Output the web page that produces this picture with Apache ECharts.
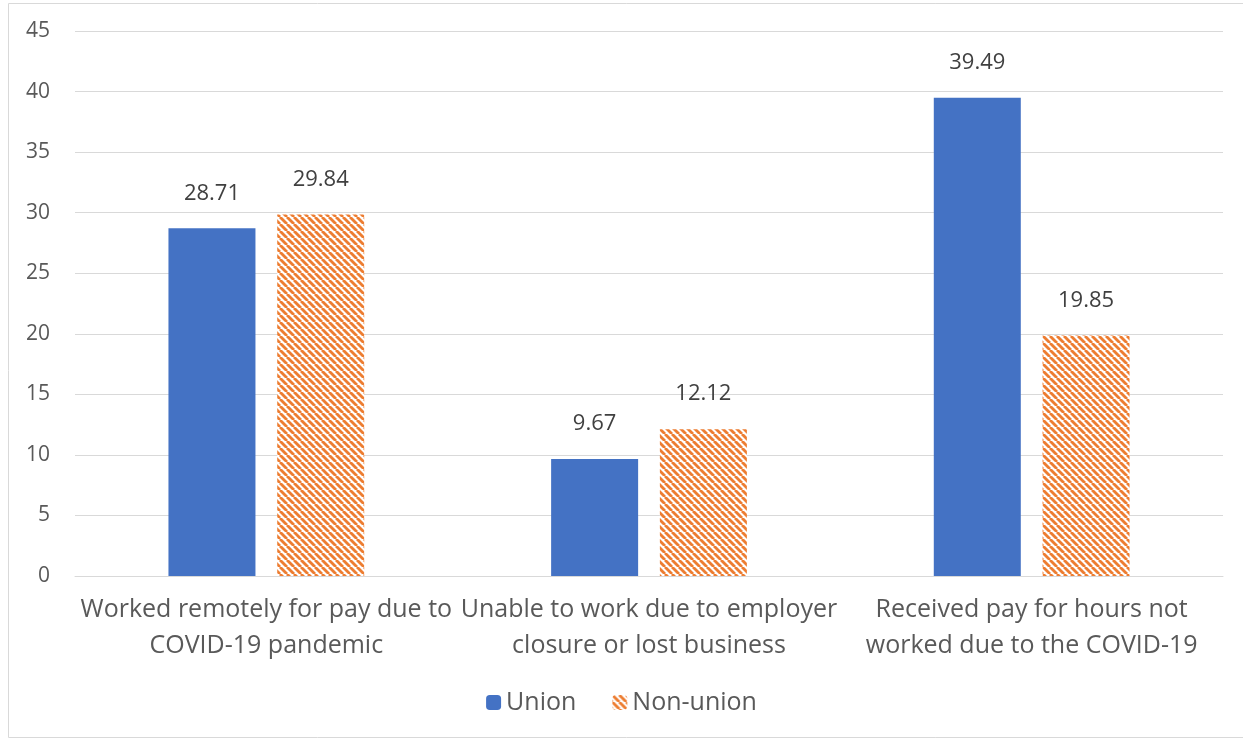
<!DOCTYPE html>
<html>
<head>
<meta charset="utf-8">
<script src="https://cdn.jsdelivr.net/npm/echarts@6/dist/echarts.min.js"></script>
<style>
  html, body { margin: 0; padding: 0; background: #ffffff; }
  #chart { width: 1243px; height: 740px; }
</style>
</head>
<body>
<div id="chart"></div>
<script>
// Chart data
const categories = [
  'Worked remotely for pay due to\nCOVID-19 pandemic',
  'Unable to work due to employer\nclosure or lost business',
  'Received pay for hours not\nworked due to the COVID-19'
];
const unionValues = [28.71, 9.67, 39.49];
const nonUnionValues = [29.84, 12.12, 19.85];
const seriesNames = ['Union', 'Non-union'];

// Diagonal orange hatch used for the non-union bars
function makeHatch() {
  const s = 7;
  const c = document.createElement('canvas');
  c.width = s; c.height = s;
  const ctx = c.getContext('2d');
  ctx.fillStyle = '#ffffff';
  ctx.fillRect(0, 0, s, s);
  ctx.strokeStyle = '#ED7D31';
  ctx.lineWidth = 2.8;
  for (const o of [-s, 0, s]) {
    ctx.beginPath();
    ctx.moveTo(o, 0);
    ctx.lineTo(o + s, s);
    ctx.stroke();
  }
  return c;
}
const hatch = { image: makeHatch(), repeat: 'repeat' };

const textColor = '#595959';
const fontFamily = '"Open Sans", "Noto Sans", sans-serif';

const valueLabel = {
  show: true,
  position: 'top',
  distance: 24,
  fontSize: 22,
  color: '#404040',
  fontFamily: fontFamily
};

const chart = echarts.init(document.getElementById('chart'), null, { renderer: 'canvas' });
chart.setOption({
  animation: false,
  textStyle: { fontFamily: fontFamily },
  graphic: [{
    type: 'rect',
    shape: { x: 8.5, y: 3.5, width: 1300, height: 734 },
    style: { fill: 'none', stroke: '#d9d9d9', lineWidth: 1 },
    silent: true
  }],
  grid: { left: 75, right: 20, top: 31, bottom: 164 },
  legend: {
    data: seriesNames,
    bottom: 20,
    left: 'center',
    itemWidth: 15,
    itemHeight: 15,
    itemGap: 36,
    textStyle: { fontSize: 25, color: textColor, fontFamily: fontFamily }
  },
  xAxis: {
    type: 'category',
    data: categories,
    axisLine: { lineStyle: { color: '#d9d9d9', width: 1 } },
    axisTick: { show: false },
    axisLabel: {
      interval: 0,
      fontSize: 25,
      lineHeight: 36,
      color: textColor,
      margin: 16,
      fontFamily: fontFamily
    }
  },
  yAxis: {
    type: 'value',
    min: 0,
    max: 45,
    interval: 5,
    axisLine: { show: false },
    axisTick: { show: false },
    splitLine: { lineStyle: { color: '#d9d9d9', width: 1 } },
    axisLabel: { fontSize: 21, color: textColor, margin: 25, fontFamily: fontFamily }
  },
  series: [
    {
      name: seriesNames[0],
      type: 'bar',
      data: unionValues,
      barWidth: 87,
      barGap: '25%',
      itemStyle: { color: '#4472C4' },
      label: valueLabel
    },
    {
      name: seriesNames[1],
      type: 'bar',
      data: nonUnionValues,
      barWidth: 87,
      barGap: '25%',
      itemStyle: { color: hatch },
      label: valueLabel
    }
  ]
});
</script>
</body>
</html>
